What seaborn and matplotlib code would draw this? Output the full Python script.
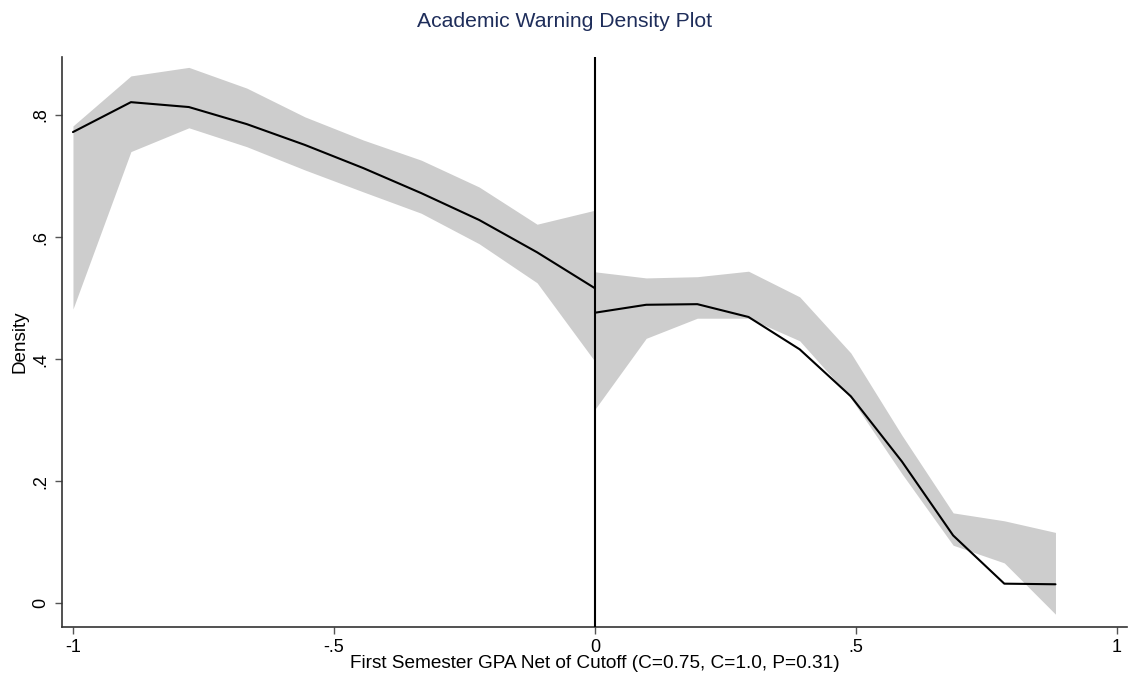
import numpy as np
import pandas as pd
import matplotlib
matplotlib.use("Agg")
import matplotlib.pyplot as plt
import seaborn as sns

# Left of cutoff
x_left = [-1.0, -0.889, -0.778, -0.667, -0.556, -0.444, -0.333, -0.222, -0.111, 0.0]
y_left = [0.772, 0.821, 0.813, 0.785, 0.751, 0.713, 0.672, 0.628, 0.575, 0.516]
hi_left = [0.782, 0.864, 0.878, 0.844, 0.797, 0.759, 0.726, 0.682, 0.621, 0.644]
lo_left = [0.482, 0.740, 0.779, 0.748, 0.710, 0.674, 0.639, 0.589, 0.525, 0.396]

# Right of cutoff
x_right = [0.0, 0.098, 0.196, 0.294, 0.392, 0.490, 0.588, 0.686, 0.784, 0.882]
y_right = [0.476, 0.489, 0.490, 0.469, 0.416, 0.339, 0.232, 0.111, 0.032, 0.031]
hi_right = [0.543, 0.533, 0.535, 0.544, 0.502, 0.410, 0.275, 0.148, 0.135, 0.116]
lo_right = [0.318, 0.434, 0.467, 0.467, 0.430, 0.336, 0.212, 0.095, 0.066, -0.018]

xticks = [-1, -0.5, 0, 0.5, 1]
xticklabels = ["-1", "-.5", "0", ".5", "1"]
yticks = [0, 0.2, 0.4, 0.6, 0.8]
yticklabels = ["0", ".2", ".4", ".6", ".8"]

title = "Academic Warning Density Plot"
xlabel = "First Semester GPA Net of Cutoff (C=0.75, C=1.0, P=0.31)"
ylabel = "Density"

sns.set_style("ticks")
plt.rcParams["font.family"] = ["Liberation Sans", "DejaVu Sans"]

fig = plt.figure(figsize=(11.29, 6.84), dpi=100)
ax = fig.add_axes([62 / 1129, 1 - 627 / 684, (1127 - 62) / 1129, (627 - 57) / 684])

band_color = "#cdcdcd"
ax.fill_between(x_left, lo_left, hi_left, color=band_color, linewidth=0, zorder=1)
ax.fill_between(x_right, lo_right, hi_right, color=band_color, linewidth=0, zorder=1)

df_l = pd.DataFrame({"x": x_left, "y": y_left})
df_r = pd.DataFrame({"x": x_right, "y": y_right})
sns.lineplot(data=df_l, x="x", y="y", ax=ax, color="black", linewidth=1.5, zorder=3)
sns.lineplot(data=df_r, x="x", y="y", ax=ax, color="black", linewidth=1.5, zorder=3)

ax.axvline(0, color="black", linewidth=1.5, zorder=4)

ax.set_xlim(-1.021, 1.019)
ax.set_ylim(-0.039, 0.895)

ax.set_xticks(xticks)
ax.set_xticklabels(xticklabels)
ax.set_yticks(yticks)
ax.set_yticklabels(yticklabels, rotation=90, va="center")

ax.tick_params(axis="both", length=5, width=1, color="#555555", labelsize=13, labelcolor="black", pad=4)

for s in ["top", "right"]:
    ax.spines[s].set_visible(False)
for s in ["left", "bottom"]:
    ax.spines[s].set_color("#333333")
    ax.spines[s].set_linewidth(1.2)

ax.set_xlabel(xlabel, fontsize=13.7, color="black", labelpad=-1)
ax.set_ylabel(ylabel, fontsize=13.6, color="black", labelpad=3)
fig.suptitle(title, fontsize=15.2, color="#1e2d5a", x=0.5, y=0.982)

fig.savefig("out.png", dpi=100, facecolor="white")
